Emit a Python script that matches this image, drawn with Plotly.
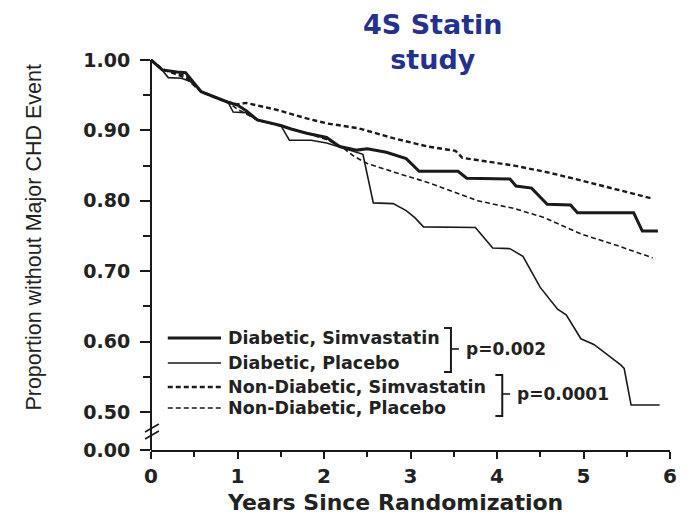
import plotly.graph_objects as go

# ---------------- data ----------------
series_names = ["Diabetic, Simvastatin", "Diabetic, Placebo",
                "Non-Diabetic, Simvastatin", "Non-Diabetic, Placebo"]

years_diab_simva = [0, 0.05, 0.13, 0.3, 0.4, 0.58, 0.74, 0.89, 1.0, 1.1, 1.23, 1.5, 1.62, 1.8, 2.03,
                    2.18, 2.38, 2.5, 2.72, 2.95, 3.1, 3.55, 3.65, 4.15, 4.22, 4.4, 4.58, 4.85, 4.93,
                    5.58, 5.68, 5.86]
surv_diab_simva = [1.0, 0.995, 0.986, 0.983, 0.982, 0.955, 0.947, 0.94, 0.936, 0.928, 0.915, 0.907,
                   0.902, 0.896, 0.89, 0.877, 0.872, 0.874, 0.869, 0.86, 0.842, 0.842, 0.832, 0.831,
                   0.821, 0.818, 0.795, 0.794, 0.783, 0.783, 0.757, 0.757]

years_diab_plac = [0, 0.1, 0.2, 0.35, 0.45, 0.58, 0.74, 0.89, 0.95, 1.1, 1.23, 1.5, 1.6, 1.85, 2.03,
                   2.18, 2.38, 2.45, 2.57, 2.8, 2.95, 3.05, 3.15, 3.75, 3.95, 4.15, 4.3, 4.5, 4.7,
                   4.8, 4.97, 5.12, 5.43, 5.47, 5.55, 5.88]
surv_diab_plac = [1.0, 0.99, 0.975, 0.974, 0.97, 0.955, 0.947, 0.94, 0.926, 0.925, 0.914, 0.907,
                  0.886, 0.886, 0.882, 0.876, 0.868, 0.866, 0.797, 0.796, 0.786, 0.776, 0.763, 0.762,
                  0.733, 0.732, 0.721, 0.677, 0.646, 0.638, 0.604, 0.596, 0.567, 0.562, 0.51, 0.51]

years_nondiab_simva = [0, 0.13, 0.4, 0.58, 0.74, 0.89, 1.0, 1.1, 1.46, 1.8, 2.03, 2.4, 2.8, 3.2,
                       3.52, 3.6, 4.2, 4.6, 4.97, 5.4, 5.8]
surv_nondiab_simva = [1.0, 0.987, 0.975, 0.955, 0.947, 0.94, 0.937, 0.939, 0.929, 0.917, 0.91,
                      0.903, 0.889, 0.877, 0.871, 0.861, 0.85, 0.84, 0.829, 0.815, 0.803]

years_nondiab_plac = [0, 0.13, 0.4, 0.58, 0.74, 0.89, 1.0, 1.23, 1.5, 1.8, 2.03, 2.2, 2.35, 2.5,
                      2.83, 3.2, 3.78, 4.2, 4.55, 4.97, 5.4, 5.8]
surv_nondiab_plac = [1.0, 0.986, 0.978, 0.955, 0.947, 0.94, 0.93, 0.915, 0.906, 0.896, 0.887,
                     0.877, 0.863, 0.853, 0.84, 0.826, 0.80, 0.789, 0.776, 0.753, 0.736, 0.719]

p_values = ["p=0.002", "p=0.0001"]

x_tick_values = [0, 1, 2, 3, 4, 5, 6]
y_tick_values = [0.5, 0.6, 0.7, 0.8, 0.9, 1.0]
y_tick_labels = ["0.50", "0.60", "0.70", "0.80", "0.90", "1.00"]
zero_label = "0.00"

# ---------------- layout geometry (screen pixels; page body has an 8px margin) ----------------
OFF = 8
SCREEN_W, SCREEN_H = 687, 516
W, H = SCREEN_W - OFF, SCREEN_H - OFF
AX_LEFT, AX_RIGHT, AX_TOP, AX_BOTTOM = 151, 677, 53, 450   # screen px of plot area
L = AX_LEFT - OFF
R = SCREEN_W - AX_RIGHT
T = AX_TOP - OFF
B = SCREEN_H - AX_BOTTOM
PX_PER_UNIT = 704.0
plot_h = AX_BOTTOM - AX_TOP
plot_w = AX_RIGHT - AX_LEFT
y_zero_pos = 0.5 - 38 / PX_PER_UNIT          # where the broken axis shows 0.00
y_top = y_zero_pos + plot_h / PX_PER_UNIT


def fx(px):
    return (px - AX_LEFT) / plot_w


def fy(py):
    return (AX_BOTTOM - py) / plot_h


INK = "#1a1a1a"
TXT = "#222222"

fig = go.Figure()

styles = [
    dict(width=3.0, dash="solid"),
    dict(width=1.6, dash="solid"),
    dict(width=2.4, dash="5px,3px"),
    dict(width=1.6, dash="5px,3px"),
]
all_x = [years_diab_simva, years_diab_plac, years_nondiab_simva, years_nondiab_plac]
all_y = [surv_diab_simva, surv_diab_plac, surv_nondiab_simva, surv_nondiab_plac]

for name, xs, ys, st in zip(series_names, all_x, all_y, styles):
    fig.add_trace(go.Scatter(x=xs, y=ys, mode="lines", name=name, showlegend=False,
                             line=dict(color=INK, width=st["width"], dash=st["dash"])))

shapes = []
annotations = []

# y axis line with break marks
shapes.append(dict(type="line", xref="paper", yref="paper", x0=0, x1=0, y0=fy(450), y1=fy(60),
                   line=dict(color=INK, width=2)))
for off in (0, 7):
    shapes.append(dict(type="line", xref="paper", yref="paper",
                       x0=fx(145), y0=fy(432 + off), x1=fx(159), y1=fy(424 + off),
                       line=dict(color=INK, width=1.6)))

# custom legend
row_y = [338, 363, 387, 408]
font_leg = dict(family="DejaVu Sans", size=17.5, color=TXT, weight="bold")
for name, st, ry in zip(series_names, styles, row_y):
    shapes.append(dict(type="line", xref="paper", yref="paper", x0=fx(168), x1=fx(222),
                       y0=fy(ry), y1=fy(ry),
                       line=dict(color=INK, width=st["width"], dash=st["dash"])))
    annotations.append(dict(text=name, xref="paper", yref="paper", x=fx(227), y=fy(ry),
                            xanchor="left", yanchor="middle", showarrow=False, font=font_leg))

# brackets with p-values
brackets = [(448, 455, 328, 372, 349), (500, 507, 375, 416, 394)]
for (bx0, bx1, by0, by1, bmid), ptxt in zip(brackets, p_values):
    path = (f"M {fx(bx0)},{fy(by0)} L {fx(bx1)},{fy(by0)} L {fx(bx1)},{fy(by1)} "
            f"L {fx(bx0)},{fy(by1)}")
    shapes.append(dict(type="path", xref="paper", yref="paper", path=path,
                       line=dict(color=INK, width=2)))
    shapes.append(dict(type="line", xref="paper", yref="paper", x0=fx(bx1), x1=fx(bx1 + 8),
                       y0=fy(bmid), y1=fy(bmid), line=dict(color=INK, width=1.6)))
    annotations.append(dict(text=ptxt, xref="paper", yref="paper", x=fx(bx1 + 13), y=fy(bmid),
                            xanchor="left", yanchor="middle", showarrow=False,
                            font=dict(family="DejaVu Sans", size=17, color=TXT, weight="bold")))

# axis titles
annotations.append(dict(text="Proportion without Major CHD Event", xref="paper", yref="paper",
                        x=fx(32), y=fy(237), xanchor="center", yanchor="middle", textangle=-90,
                        showarrow=False,
                        font=dict(family="Liberation Sans", size=21.5, color=TXT)))
annotations.append(dict(text="Years Since Randomization", xref="paper", yref="paper",
                        x=fx(398), y=fy(502), xanchor="center", yanchor="middle",
                        showarrow=False,
                        font=dict(family="DejaVu Sans", size=22, color=TXT, weight="bold")))

# title
annotations.append(dict(text="4S Statin<br>study", xref="paper", yref="paper",
                        x=fx(437), y=fy(8), xanchor="center", yanchor="top", showarrow=False,
                        borderpad=0,
                        font=dict(family="DejaVu Sans", size=27, color="#24318f", weight="bold")))

fig.update_layout(
    width=W, height=H,
    margin=dict(l=L, r=R, t=T, b=B, pad=0),
    paper_bgcolor="white", plot_bgcolor="white",
    showlegend=False,
    shapes=shapes,
    annotations=annotations,
    xaxis=dict(range=[0, 6], tickvals=x_tick_values, ticktext=[str(v) for v in x_tick_values],
               showgrid=False, zeroline=False, showline=True, linecolor=INK, linewidth=2,
               ticks="outside", ticklen=7, tickwidth=1.6, tickcolor=INK,
               minor=dict(dtick=0.5, tick0=0, ticks="outside", ticklen=5, tickwidth=1.6,
                          tickcolor=INK, showgrid=False),
               tickfont=dict(family="DejaVu Sans", size=20, color=TXT, weight="bold"),
               ticklabelstandoff=0),
    yaxis=dict(range=[y_zero_pos, y_top], tickvals=[y_zero_pos] + y_tick_values,
               ticktext=[zero_label] + y_tick_labels,
               showgrid=False, zeroline=False, showline=False,
               ticks="outside", ticklen=10, tickwidth=1.6, tickcolor=INK,
               minor=dict(tickvals=[0.55, 0.65, 0.75, 0.85, 0.95], ticks="outside", ticklen=7,
                          tickwidth=1.6, tickcolor=INK, showgrid=False),
               tickfont=dict(family="DejaVu Sans", size=19, color=TXT, weight="bold"),
               ticklabelstandoff=6),
)

fig.write_html("out.html")
